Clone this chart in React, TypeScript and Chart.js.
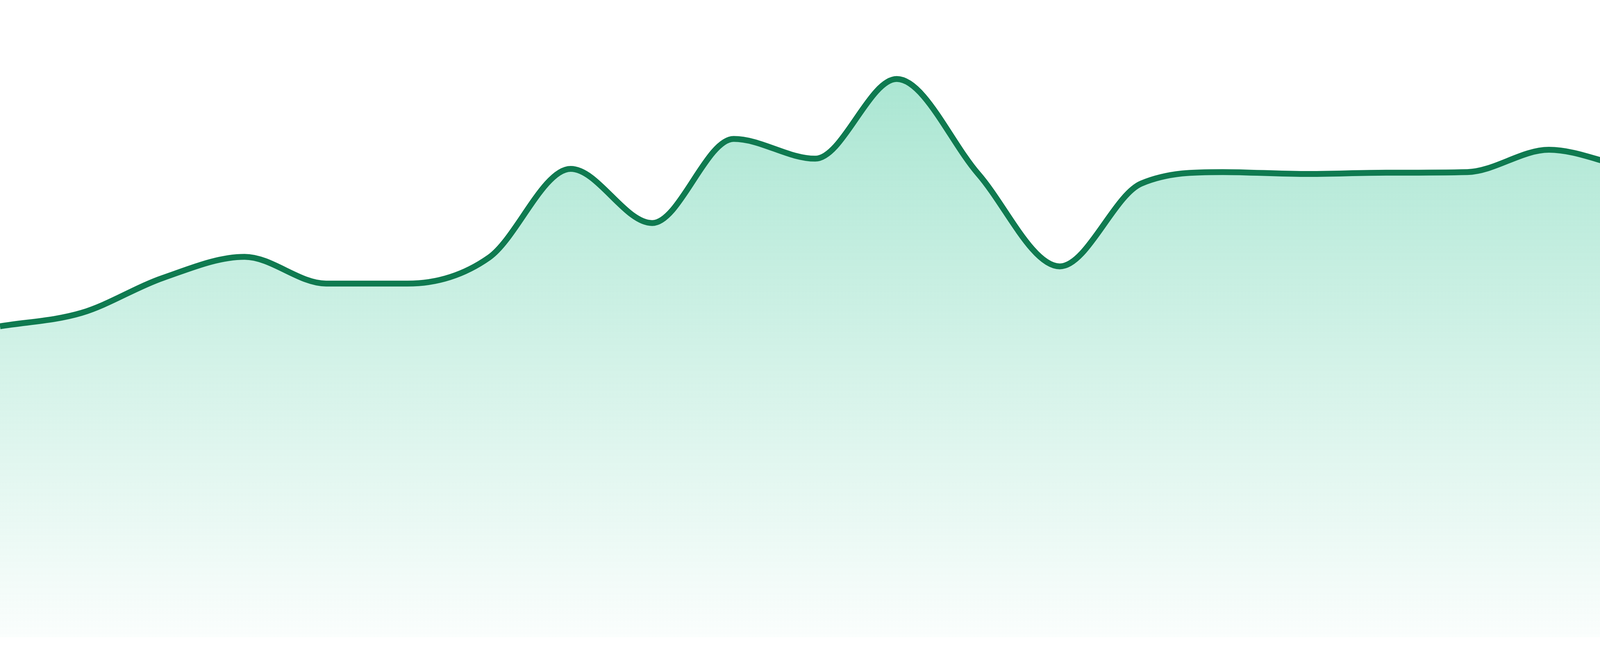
import React, { useEffect, useRef } from 'react';
import { Chart, registerables } from 'chart.js';

Chart.register(...registerables);

// hourly readings, one per hour
const hours: string[] = [
  '00:00', '01:00', '02:00', '03:00', '04:00', '05:00', '06:00', '07:00',
  '08:00', '09:00', '10:00', '11:00', '12:00', '13:00', '14:00', '15:00',
  '16:00', '17:00', '18:00', '19:00', '20:00', '21:00', '22:00', '23:00',
];

const values: number[] = [
  48.8, 50.9, 56.4, 59.7, 55.5, 55.5, 59.6, 73.5,
  65.0, 78.2, 75.1, 87.6, 72.7, 58.2, 71.2, 73.0,
  72.7, 72.9, 73.0, 76.5, 73.7, 72.3, 76.0, 74.4,
];

const yMin = 0;
const yMax = 100;

const lineColor = '#0f7a50';

const App: React.FC = () => {
  const canvasRef = useRef<HTMLCanvasElement>(null);
  const chartRef = useRef<Chart>();

  useEffect(() => {
    document.body.style.margin = '0';
    if (!canvasRef.current) return;
    const ctx = canvasRef.current.getContext('2d');
    if (!ctx) return;

    chartRef.current = new Chart(ctx, {
      type: 'line',
      data: {
        labels: hours,
        datasets: [
          {
            data: values,
            borderColor: lineColor,
            borderWidth: 15,
            pointRadius: 0,
            pointHoverRadius: 0,
            cubicInterpolationMode: 'monotone',
            fill: 'start',
            backgroundColor: (c: any) => {
              const area = c.chart.chartArea;
              if (!area) return 'rgba(16,185,129,0.3)';
              const g = c.chart.ctx.createLinearGradient(0, area.top, 0, area.bottom);
              g.addColorStop(0, 'rgba(16,185,129,0.40)');
              g.addColorStop(1, 'rgba(16,185,129,0.02)');
              return g;
            },
          },
        ],
      },
      options: {
        animation: false,
        responsive: true,
        maintainAspectRatio: false,
        layout: { padding: { top: 0, left: 0, right: 0, bottom: 48 } },
        plugins: {
          legend: { display: false },
          tooltip: { enabled: false },
        },
        scales: {
          x: { display: false },
          y: { display: false, min: yMin, max: yMax },
        },
      },
    });

    return () => {
      if (chartRef.current) {
        chartRef.current.destroy();
      }
    };
  }, []);

  return (
    <div style={{ position: 'fixed', left: 0, top: 0, width: 4800, height: 1680, background: '#fff' }}>
      <canvas ref={canvasRef} />
    </div>
  );
};

export default App;
